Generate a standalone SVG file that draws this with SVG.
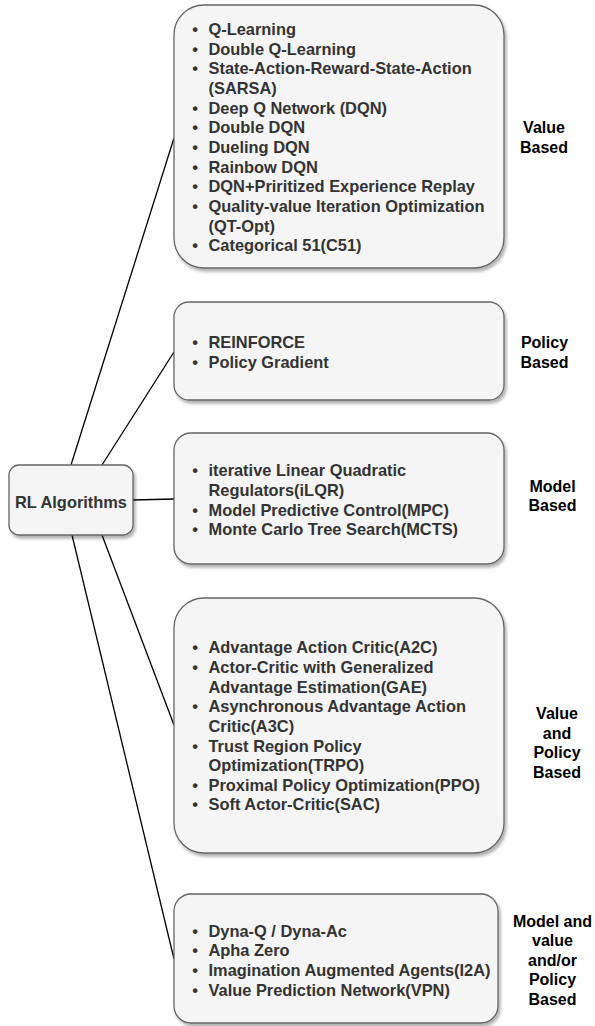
<svg xmlns="http://www.w3.org/2000/svg" width="595" height="1026" viewBox="0 0 595 1026">
<defs>
<filter id="sh" x="-10%" y="-10%" width="120%" height="120%">
<feDropShadow dx="2" dy="3" stdDeviation="1.5" flood-color="#000" flood-opacity="0.3"/>
</filter>
<style>
.box{fill:#f5f5f5;stroke:#666;stroke-width:1.3;filter:url(#sh)}
.t{font-family:"Liberation Sans",Arial,sans-serif;font-weight:bold;font-size:16.4px;fill:#333}
.b{font-family:"Liberation Sans",Arial,sans-serif;font-weight:bold;font-size:16.4px;fill:#333;text-anchor:middle}
.l{font-family:"Liberation Sans",Arial,sans-serif;font-weight:bold;font-size:16px;fill:#000;text-anchor:middle}
.c{stroke:#000;stroke-width:1.3;fill:none}
</style>
</defs>
<rect width="595" height="1026" fill="#fff"/>
<g id="connectors">
<line class="c" x1="71" y1="465" x2="174" y2="138"/>
<line class="c" x1="102" y1="465" x2="174" y2="352"/>
<line class="c" x1="133" y1="500" x2="174" y2="499"/>
<line class="c" x1="102" y1="535" x2="174" y2="725"/>
<line class="c" x1="72" y1="535" x2="174" y2="959"/>
</g>
<g id="root">
<rect class="box" x="9" y="465" width="124" height="70" rx="10"/>
<text class="t" x="71" y="507.5" text-anchor="middle">RL Algorithms</text>
</g>
<g id="value-based">
<rect class="box" x="174" y="5" width="330" height="263" rx="30"/>
<g class="b">
<text class="b" x="195" y="35">•</text><text class="b" x="195" y="54.7">•</text><text class="b" x="195" y="74.3">•</text><text class="b" x="195" y="113.6">•</text><text class="b" x="195" y="133.2">•</text><text class="b" x="195" y="152.9">•</text><text class="b" x="195" y="172.5">•</text><text class="b" x="195" y="192.2">•</text><text class="b" x="195" y="211.8">•</text><text class="b" x="195" y="251.1">•</text>
</g>
<text class="t" x="208.5" y="35">Q-Learning</text>
<text class="t" x="208.5" y="54.7">Double Q-Learning</text>
<text class="t" x="208.5" y="74.3">State-Action-Reward-State-Action</text>
<text class="t" x="208.5" y="94">(SARSA)</text>
<text class="t" x="208.5" y="113.6">Deep Q Network (DQN)</text>
<text class="t" x="208.5" y="133.2">Double DQN</text>
<text class="t" x="208.5" y="152.9">Dueling DQN</text>
<text class="t" x="208.5" y="172.5">Rainbow DQN</text>
<text class="t" x="208.5" y="192.2">DQN+Priritized Experience Replay</text>
<text class="t" x="208.5" y="211.8">Quality-value Iteration Optimization</text>
<text class="t" x="208.5" y="231.5">(QT-Opt)</text>
<text class="t" x="208.5" y="251.1">Categorical 51(C51)</text>
<text class="l" x="544" y="133.3">Value</text>
<text class="l" x="544" y="152.8">Based</text>
</g>
<g id="policy-based">
<rect class="box" x="174" y="302" width="330" height="98" rx="15"/>
<text class="b" x="195" y="348.3">•</text><text class="b" x="195" y="367.9">•</text>
<text class="t" x="208.5" y="348.3">REINFORCE</text>
<text class="t" x="208.5" y="367.9">Policy Gradient</text>
<text class="l" x="544.5" y="348">Policy</text>
<text class="l" x="544.5" y="367.5">Based</text>
</g>
<g id="model-based">
<rect class="box" x="174" y="433" width="330" height="131" rx="17"/>
<text class="b" x="195" y="476.3">•</text><text class="b" x="195" y="515.6">•</text><text class="b" x="195" y="535.2">•</text>
<text class="t" x="208.5" y="476.3">iterative Linear Quadratic</text>
<text class="t" x="208.5" y="496">Regulators(iLQR)</text>
<text class="t" x="208.5" y="515.6">Model Predictive Control(MPC)</text>
<text class="t" x="208.5" y="535.2">Monte Carlo Tree Search(MCTS)</text>
<text class="l" x="552.5" y="491.7">Model</text>
<text class="l" x="552.5" y="511.2">Based</text>
</g>
<g id="value-policy-based">
<rect class="box" x="174" y="598" width="330" height="255" rx="30"/>
<text class="b" x="195" y="653.3">•</text><text class="b" x="195" y="672.9">•</text><text class="b" x="195" y="712.2">•</text><text class="b" x="195" y="751.5">•</text><text class="b" x="195" y="790.8">•</text><text class="b" x="195" y="810.4">•</text>
<text class="t" x="208.5" y="653.3">Advantage Action Critic(A2C)</text>
<text class="t" x="208.5" y="672.9">Actor-Critic with Generalized</text>
<text class="t" x="208.5" y="692.6">Advantage Estimation(GAE)</text>
<text class="t" x="208.5" y="712.2">Asynchronous Advantage Action</text>
<text class="t" x="208.5" y="731.9">Critic(A3C)</text>
<text class="t" x="208.5" y="751.5">Trust Region Policy</text>
<text class="t" x="208.5" y="771.2">Optimization(TRPO)</text>
<text class="t" x="208.5" y="790.8">Proximal Policy Optimization(PPO)</text>
<text class="t" x="208.5" y="810.4">Soft Actor-Critic(SAC)</text>
<text class="l" x="557" y="719.3">Value</text>
<text class="l" x="557" y="738.8">and</text>
<text class="l" x="557" y="758.3">Policy</text>
<text class="l" x="557" y="777.8">Based</text>
</g>
<g id="model-value-policy-based">
<rect class="box" x="174" y="894" width="324" height="129" rx="17"/>
<text class="b" x="195" y="936.7">•</text><text class="b" x="195" y="956.3">•</text><text class="b" x="195" y="976">•</text><text class="b" x="195" y="995.6">•</text>
<text class="t" x="208.5" y="936.7">Dyna-Q / Dyna-Ac</text>
<text class="t" x="208.5" y="956.3">Apha Zero</text>
<text class="t" x="208.5" y="976">Imagination Augmented Agents(I2A)</text>
<text class="t" x="208.5" y="995.6">Value Prediction Network(VPN)</text>
<text class="l" x="552.5" y="926.7">Model and</text>
<text class="l" x="552.5" y="946.2">value</text>
<text class="l" x="552.5" y="965.7">and/or</text>
<text class="l" x="552.5" y="985.2">Policy</text>
<text class="l" x="552.5" y="1004.7">Based</text>
</g>
</svg>
